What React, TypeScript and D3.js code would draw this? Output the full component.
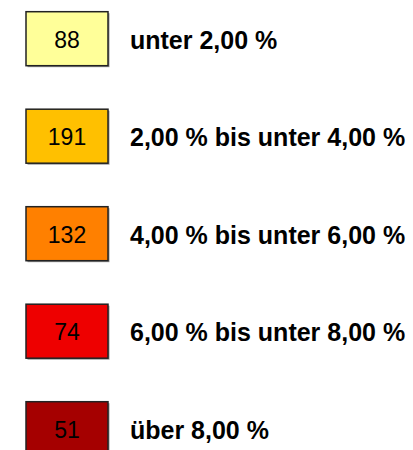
import React from "react";
import * as d3 from "d3";

// legend classes, counts and fill colours
const classLabels = [
  "unter 2,00 %",
  "2,00 % bis unter 4,00 %",
  "4,00 % bis unter 6,00 %",
  "6,00 % bis unter 8,00 %",
  "über 8,00 %",
];
const classCounts = [88, 191, 132, 74, 51];
const classColors = ["#FFFF99", "#FFC000", "#FF8000", "#EE0000", "#A50000"];

const width = 413;
const height = 450;

const App = () => {
  const idx = d3.range(classLabels.length);

  // vertical centre of each legend row
  const y = d3.scalePoint<number>().domain(idx).range([38.7, 428.7]);

  const boxX = 26;
  const boxW = 82;
  const boxH = 54;
  const labelX = 130;

  return (
    <svg
      width={width}
      height={height}
      style={{ position: "absolute", left: 0, top: 0, background: "#fff" }}
      fontFamily="'Liberation Sans', Arial, sans-serif"
    >
      {idx.map((i) => {
        const cy = y(i) as number;
        return (
          <g key={i}>
            <rect
              x={boxX + 1.5}
              y={cy - boxH / 2 + 1.5}
              width={boxW}
              height={boxH}
              fill="#999"
            />
            <rect
              x={boxX}
              y={cy - boxH / 2}
              width={boxW}
              height={boxH}
              fill={classColors[i]}
              stroke="#222"
              strokeWidth={1.5}
            />
            <text
              x={boxX + boxW / 2}
              y={cy + 9}
              textAnchor="middle"
              fontSize={23}
              fill="#000"
            >
              {classCounts[i]}
            </text>
            <text
              x={labelX}
              y={cy + 10}
              fontSize={25}
              fontWeight="bold"
              fill="#000"
            >
              {classLabels[i]}
            </text>
          </g>
        );
      })}
    </svg>
  );
};

export default App;
